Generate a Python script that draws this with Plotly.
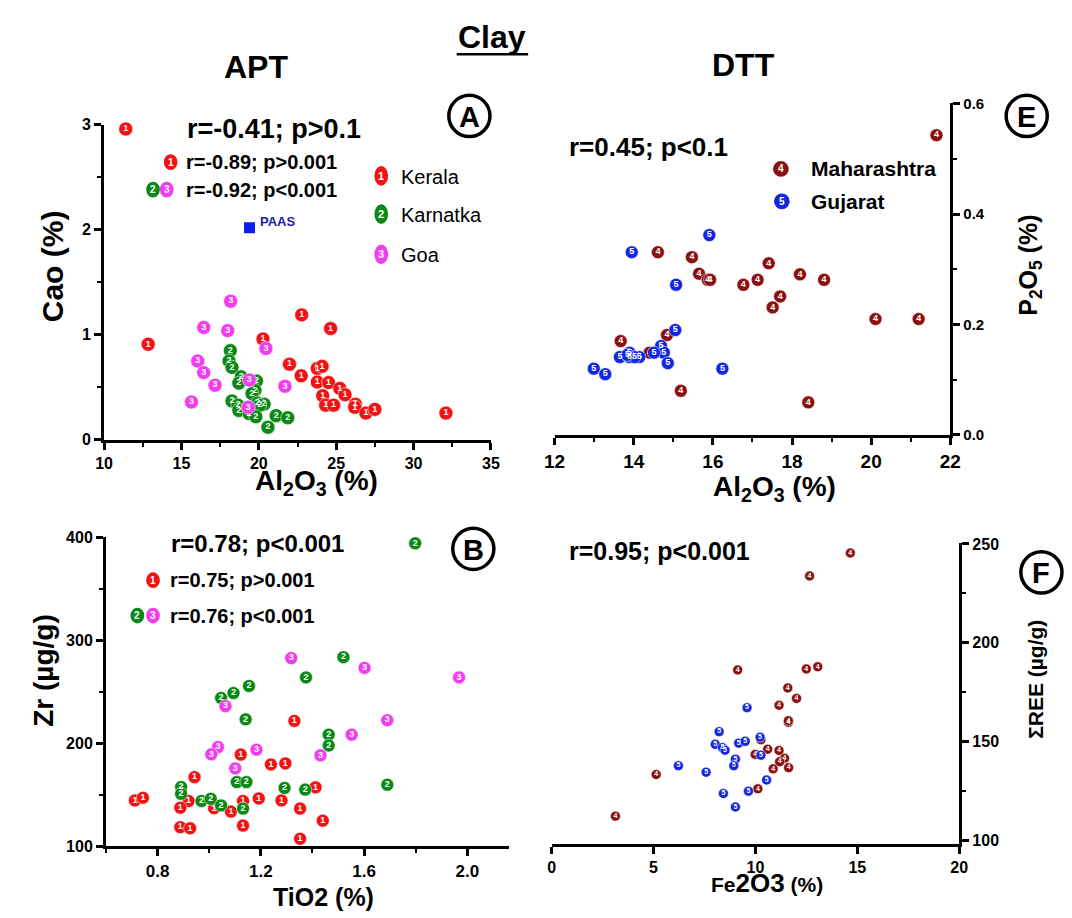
import plotly.graph_objects as go

# ---------------- data ----------------
# Panel A: CaO vs Al2O3 (APT clays)
kerala_al = [11.4, 12.85, 22.77, 24.64, 20.27, 21.98, 22.74, 23.78, 24.09, 23.78, 24.51,
             25.23, 25.57, 24.13, 24.32, 24.83, 26.24, 26.2, 26.92, 27.5, 32.09]
kerala_cao = [2.96, 0.91, 1.19, 1.06, 0.96, 0.72, 0.61, 0.68, 0.70, 0.55, 0.545,
              0.49, 0.43, 0.42, 0.33, 0.33, 0.34, 0.31, 0.255, 0.29, 0.255]
karnataka_al = [18.16, 18.08, 18.27, 18.86, 18.71, 19.85, 19.75, 19.56, 18.27, 18.65,
                18.71, 19.92, 20.34, 20.06, 19.37, 19.81, 21.12, 21.87, 20.59]
karnataka_cao = [0.85, 0.75, 0.69, 0.60, 0.54, 0.56, 0.47, 0.44, 0.37, 0.33,
                 0.28, 0.35, 0.34, 0.33, 0.25, 0.22, 0.23, 0.21, 0.12]
goa_al = [18.18, 16.44, 17.99, 20.46, 16.05, 16.44, 17.17, 19.39, 21.69, 15.65, 19.32]
goa_cao = [1.32, 1.07, 1.04, 0.87, 0.75, 0.64, 0.52, 0.57, 0.51, 0.36, 0.31]
paas_al = [19.4]
paas_cao = [2.02]

# Panel B: Zr vs TiO2 (APT clays)
kerala_ti = [1.330, 1.122, 1.239, 1.295, 0.943, 1.412, 0.712, 0.743, 0.92, 1.131, 1.192,
             1.280, 0.888, 1.019, 1.084, 1.352, 1.440, 0.888, 0.926, 1.131, 1.352]
kerala_zr = [221.5, 188.9, 179.3, 180.3, 167, 157.1, 144.4, 147, 143.8, 143.8, 146.3,
             144.4, 137.4, 136.8, 133.6, 136.5, 124.8, 118.4, 117.4, 120, 107.2]
karnataka_ti = [1.798, 1.52, 1.375, 1.154, 1.094, 1.046, 1.141, 1.463, 1.463, 1.107,
                1.144, 1.690, 0.891, 0.891, 1.292, 1.372, 0.970, 1.006, 1.046, 1.131]
karnataka_zr = [393.9, 283.4, 263.8, 255.5, 248.6, 243.8, 223.1, 208.2, 197.7, 162.2,
                162.2, 159.6, 157.4, 150.8, 156.5, 154.9, 143.8, 146, 139.6, 136.5]
goa_ti = [1.318, 1.602, 1.968, 1.063, 1.690, 1.552, 1.034, 1.008, 1.183, 1.431, 1.101]
goa_zr = [282.5, 273, 263.8, 235.8, 222.2, 208.2, 196.2, 189.1, 193.6, 188.2, 175.5]

# Panel E: P2O5 vs Al2O3 (DTT clays)
mah_al = [21.65, 14.61, 15.47, 15.65, 15.87, 15.93, 17.41, 16.77, 17.13, 18.20,
          18.81, 17.70, 17.51, 20.11, 21.2, 13.67, 14.84, 14.40, 15.19, 18.41]
mah_p = [0.543, 0.331, 0.322, 0.292, 0.281, 0.281, 0.311, 0.272, 0.281, 0.291,
         0.281, 0.251, 0.231, 0.21, 0.21, 0.170, 0.181, 0.149, 0.080, 0.059]
guj_al = [13.95, 15.91, 15.07, 15.05, 14.69, 14.76, 14.51, 14.86, 13.65, 13.89,
          13.89, 14.14, 14.02, 13.84, 12.99, 13.28, 16.24]
guj_p = [0.331, 0.362, 0.272, 0.190, 0.161, 0.149, 0.149, 0.130, 0.141, 0.149,
         0.141, 0.141, 0.141, 0.145, 0.120, 0.110, 0.120]

# Panel F: sum REE vs Fe2O3 (DTT clays)
mah_fe = [14.66, 12.66, 9.13, 12.5, 13.06, 11.59, 12.02, 11.16, 11.62, 11.62, 10.27,
          10.6, 9.99, 11.16, 11.43, 11.19, 10.87, 11.63, 10.12, 5.13, 3.13]
mah_ree = [245.4, 233.8, 186.3, 186.8, 187.9, 177.2, 171.9, 168.4, 159.8, 160.6, 151,
           146.2, 143.6, 145.6, 141.6, 139.9, 136.3, 136.9, 126.2, 133.4, 112.4]
guj_fe = [9.59, 8.22, 10.23, 8.03, 8.38, 8.51, 9.18, 9.50, 10.27, 9.02, 8.94,
          6.22, 7.58, 10.55, 8.43, 9.66, 9.02]
guj_ree = [167.2, 155.1, 152.3, 148.7, 147, 145.7, 149.3, 150.2, 143.2, 141.2, 137.9,
           137.9, 134.6, 130.7, 123.8, 125, 117]

# ---------------- styling ----------------
W, H = 1072, 918
RED = "#f21212"
GREEN = "#0a8a14"
MAGENTA = "#f23cf0"
DRED = "#8c1010"
BLUE = "#1426e0"
FONT = "Liberation Sans"
NARROW = "Liberation Sans Narrow, Arial Narrow, Liberation Sans"


def fx(p):
    return p / W


def fy(p):
    return 1 - p / H


fig = go.Figure()


def series(x, y, color, label, xa, ya, size, tsize):
    fig.add_trace(go.Scatter(
        x=x, y=y, xaxis=xa, yaxis=ya, mode="markers+text",
        text=[label] * len(x), textposition="middle center",
        textfont=dict(color="white", size=tsize, family=FONT, weight="bold"),
        marker=dict(color=color, size=size,
                    line=dict(color="rgba(255,255,255,0.7)", width=0.8)),
        cliponaxis=False, showlegend=False, hoverinfo="x+y"))


series(kerala_al, kerala_cao, RED, "1", "x", "y", 14, 9)
series(karnataka_al, karnataka_cao, GREEN, "2", "x", "y", 14, 9)
series(goa_al, goa_cao, MAGENTA, "3", "x", "y", 14, 9)
fig.add_trace(go.Scatter(x=paas_al, y=paas_cao, xaxis="x", yaxis="y", mode="markers",
                         marker=dict(symbol="square", color="#0a1ef0", size=11),
                         showlegend=False, hoverinfo="x+y"))

series(mah_al, mah_p, DRED, "4", "x2", "y2", 13, 9)
series(guj_al, guj_p, BLUE, "5", "x2", "y2", 13, 9)

series(kerala_ti, kerala_zr, RED, "1", "x3", "y3", 13, 9)
series(karnataka_ti, karnataka_zr, GREEN, "2", "x3", "y3", 13, 9)
series(goa_ti, goa_zr, MAGENTA, "3", "x3", "y3", 13, 9)

series(mah_fe, mah_ree, DRED, "4", "x4", "y4", 10, 7)
series(guj_fe, guj_ree, BLUE, "5", "x4", "y4", 10, 7)


def axis(domain, rng, anchor, dtick, minor=None, size=16, **kw):
    d = dict(domain=domain, range=rng, anchor=anchor, dtick=dtick,
             showline=True, linecolor="black", linewidth=3,
             ticks="outside", ticklen=7, tickwidth=2.5, tickcolor="black",
             showgrid=False, zeroline=False,
             tickfont=dict(family=FONT, size=size, color="black", weight="bold"))
    if minor is not None:
        d["minor"] = dict(dtick=minor, ticks="outside", ticklen=4, tickwidth=2,
                          tickcolor="black", showgrid=False)
    d.update(kw)
    return d


fig.update_layout(
    width=W, height=H, margin=dict(l=0, r=0, t=0, b=0),
    paper_bgcolor="white", plot_bgcolor="white", showlegend=False,
    xaxis=axis([fx(95), fx(490)], [10, 35], "y", 5, 2.5, size=16),
    yaxis=axis([fy(440), fy(119)], [0, 3], "x", 1, 0.5, size=16),
    xaxis2=axis([fx(555), fx(959)], [12, 22], "y2", 2, 1, size=19),
    yaxis2=axis([fy(435), fy(97)], [0, 0.601], "x2", 0.2, 0.1, size=15,
                side="right", tickformat=".1f"),
    xaxis3=axis([fx(97), fx(508)], [0.6, 2.16], "y3", 0.4, 0.2, size=17,
                tick0=0.8, tickformat=".1f"),
    yaxis3=axis([fy(854), fy(539)], [100, 400], "x3", 100, 50, size=16),
    xaxis4=axis([fx(552), fx(968)], [0, 20], "y4", 5, None, size=16),
    yaxis4=axis([fy(852), fy(545)], [98.2, 250.5], "x4", 50, 25, size=16,
                tick0=100, side="right"),
)


def note(text, x, y, size, xanchor="center", family=FONT, weight="bold",
         color="black", angle=0):
    fig.add_annotation(text=text, x=fx(x), y=fy(y), xref="paper", yref="paper",
                       showarrow=False, xanchor=xanchor, yanchor="middle",
                       textangle=angle,
                       font=dict(family=family, size=size, color=color, weight=weight))


def badge(x, y, color, digit, rx=7, ry=8, size=10):
    fig.add_shape(type="circle", xref="paper", yref="paper",
                  x0=fx(x - rx), x1=fx(x + rx), y0=fy(y + ry), y1=fy(y - ry),
                  fillcolor=color, line=dict(width=0), layer="above")
    note(digit, x, y, size, color="white")


def circled(letter, x, y, r=21):
    fig.add_shape(type="circle", xref="paper", yref="paper",
                  x0=fx(x - r), x1=fx(x + r), y0=fy(y + r), y1=fy(y - r),
                  line=dict(color="black", width=3.5), fillcolor="rgba(0,0,0,0)")
    note(letter, x, y + 1, 29)


# headings
note("APT", 250, 60, 32)
note("DTT", 748, 58, 32)
note("Clay", 491, 30, 32)
fig.add_shape(type="line", xref="paper", yref="paper", x0=fx(455), x1=fx(528),
              y0=fy(47), y1=fy(47), line=dict(color="black", width=2.5))

# axis titles
note("Cao (%)", 42, 263, 30, angle=-90)
note("Al<sub>2</sub>O<sub>3</sub> (%)", 312, 483, 28)
note("Al<sub>2</sub>O<sub>3</sub> (%)", 780, 490, 28)
note("P<sub>2</sub>O<sub>5</sub> (%)", 1040, 262, 25, angle=-90)
note("Zr (µg/g)", 33, 675, 28, angle=-90)
note("TiO2 (%)", 319, 906, 25)
note("Fe<span style='font-size:26px'>2O3</span> (%)", 772, 891, 21)
note("ΣREE (µg/g)", 1046, 684, 21, angle=-90)

# panel A statistics and legend
note("r=-0.41; p>0.1", 268, 123, 27)
badge(163, 157, RED, "1")
note("r=-0.89; p>0.001", 177, 157, 20, xanchor="left")
badge(145, 185, GREEN, "2")
badge(159, 185, MAGENTA, "3")
note("r=-0.92; p<0.001", 177, 185, 20, xanchor="left")
note("PAAS", 252, 218, 13, xanchor="left", color="#1a1aa8")
badge(378, 171, RED, "1", rx=7, ry=10, size=11)
badge(378, 210, GREEN, "2", rx=7, ry=10, size=11)
badge(378, 251, MAGENTA, "3", rx=7, ry=10, size=11)
note("Kerala", 396, 172, 20, xanchor="left", family=NARROW, weight="normal")
note("Karnatka", 396, 211, 20, xanchor="left", family=NARROW, weight="normal")
note("Goa", 396, 252, 20, xanchor="left", family=NARROW, weight="normal")
circled("A", 468, 110)

# panel E statistics and legend
note("r=0.45; p<0.1", 651, 142, 26)
badge(786, 164, DRED, "4", rx=8, ry=8)
badge(787, 197, BLUE, "5", rx=8, ry=8)
note("Maharashtra", 815, 164, 21, xanchor="left", family=NARROW)
note("Gujarat", 815, 197, 21, xanchor="left", family=NARROW)
circled("E", 1037, 110)

# panel B statistics
note("r=0.78; p<0.001", 252, 546, 24)
badge(145, 583, RED, "1")
note("r=0.75; p>0.001", 160, 583, 20, xanchor="left")
badge(129, 619, GREEN, "2")
badge(145, 619, MAGENTA, "3")
note("r=0.76; p<0.001", 160, 619, 20, xanchor="left")
circled("B", 472, 551)

# panel F statistics
note("r=0.95; p<0.001", 662, 553, 25)
circled("F", 1052, 575)

fig.write_html("out.html")
